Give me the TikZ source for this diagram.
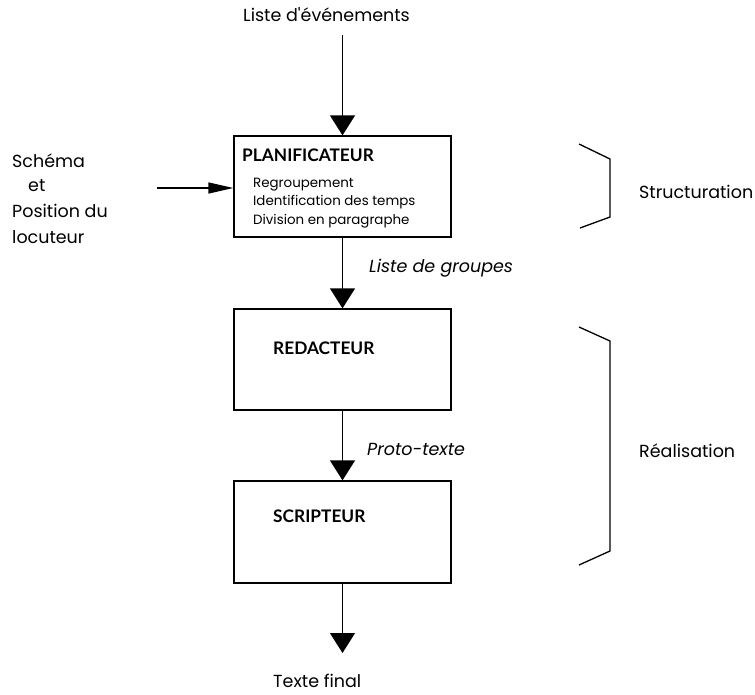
\documentclass[tikz,border=0pt]{standalone}
\usepackage{fontspec}
\setmainfont{Poppins}
\newfontfamily\headfont{Lato}
\usetikzlibrary{arrows.meta}
\tikzset{
  box/.style={draw, line width=1.3pt, minimum width=217pt, inner sep=0pt},
  lbl/.style={inner sep=0pt, font=\fontsize{17.5}{20}\selectfont},
  ilbl/.style={inner sep=0pt, font=\itshape\fontsize{17.5}{20}\selectfont},
  sub/.style={inner sep=0pt, font=\fontsize{13.4}{18.5}\selectfont, align=left},
  head/.style={inner sep=0pt, font=\headfont\bfseries\fontsize{17.3}{20}\selectfont},
  flow/.style={line width=1.3pt, -{Triangle[width=25pt,length=20pt]}},
  side/.style={line width=1.3pt, -{Triangle[width=11pt,length=25pt]}},
  brace/.style={line width=1.3pt},
}
\begin{document}
\begin{tikzpicture}[x=1pt,y=-1pt]
\useasboundingbox (0,0) rectangle (755,694);
\node[box, minimum height=101pt] (b1) at (342.5,186.5) {};
\node[box, minimum height=101pt] (b2) at (342.5,359.5) {};
\node[box, minimum height=102pt] (b3) at (342.5,532) {};

\node[lbl, anchor=west] (top) at (243,15) {Liste d\textquotesingle événements};
\coordinate (c0) at (342.5,35);
\node[head, anchor=west] (h1) at (242,155) {PLANIFICATEUR};
\node[sub, anchor=west] (s1) at (253,203) {Regroupement\\Identification des temps\\Division en paragraphe};
\node[head, anchor=west] (h2) at (273,348) {REDACTEUR};
\node[head, anchor=west] (h3) at (273,516) {SCRIPTEUR};
\node[ilbl, anchor=west] (g1) at (369,268) {Liste de groupes};
\node[ilbl, anchor=west] (g2) at (367,449) {Proto-texte};
\node[lbl, anchor=west] (fin) at (273,681) {Texte final};
\coordinate (cf) at (342.5,653);
\node[lbl, anchor=west] (l1) at (12,161) {Schéma};
\node[lbl, anchor=west] (l2) at (28,186) {et};
\node[lbl, anchor=west] (l3) at (12,211) {Position du};
\node[lbl, anchor=west] (l4) at (12,237) {locuteur};
\coordinate (cl) at (157,188);
\node[lbl, anchor=west] (st) at (639,192) {Structuration};
\node[lbl, anchor=west] (re) at (639,451) {Réalisation};

\draw[flow] (c0) -- (b1.north);
\draw[flow] (b1.south) -- (b2.north);
\draw[flow] (b2.south) -- (b3.north);
\draw[flow] (b3.south) -- (cf);
\draw[side] (cl) -- (b1.west |- cl);

\draw[brace] (579,144) -- (610,159) -- (610,217) -- (580,228);
\draw[brace] (579,327) -- (610,341) -- (610,551) -- (579,565);
\end{tikzpicture}
\end{document}
